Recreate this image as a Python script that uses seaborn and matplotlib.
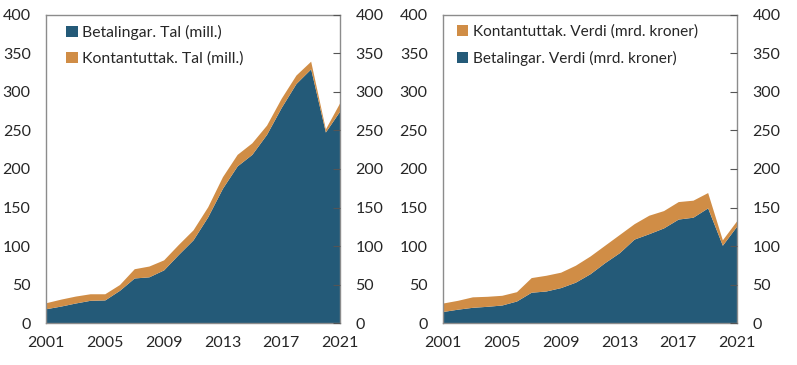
import matplotlib
matplotlib.use("Agg")
import matplotlib.pyplot as plt
from matplotlib.patches import Patch
from matplotlib.ticker import MultipleLocator
import seaborn as sns

years = list(range(2001, 2022))

# Left panel: number of transactions (mill.)
betal_tal = [18.6, 22, 26, 29.5, 30, 42.5, 58.5, 60, 69, 89, 108, 138, 175,
             204, 219, 245, 280, 311, 330, 248, 276]
kontant_tal = [7.8, 9, 9, 8.5, 8, 7.5, 12, 14, 13, 13, 13, 13, 15,
               15, 15, 12, 12, 11, 10, 4, 11]

# Right panel: value (bn NOK)
betal_verdi = [15, 18, 20.4, 21.7, 23.4, 28.6, 40, 41.6, 46, 53, 64, 78.4, 91.4,
               109, 116, 123.5, 135, 137.4, 149.5, 101, 126.5]
kontant_verdi = [11, 11.5, 13.6, 13, 12.6, 12.1, 19, 20.4, 20, 22, 23, 22.6, 23.6,
                 20, 24, 22.5, 22.7, 22.1, 19.9, 7, 7]

BLUE = "#245a78"
ORANGE = "#d08d46"

sns.set_style("white")
plt.rcParams["font.family"] = ["Lato", "DejaVu Sans"]
plt.rcParams["font.size"] = 11.5

fig = plt.figure(figsize=(7.97, 3.65), dpi=100)
ax1 = fig.add_axes([0.0577, 0.115, 0.369, 0.844])
ax2 = fig.add_axes([0.5558, 0.115, 0.369, 0.844])


def draw(ax, blue, orange, legend_order, anchor_x, fs):
    ax.stackplot(years, blue, orange, colors=[BLUE, ORANGE], linewidth=0)
    ax.set_xlim(2001, 2021)
    ax.set_ylim(0, 400)
    ax.yaxis.set_major_locator(MultipleLocator(50))
    ax.set_xticks(years)
    ax.set_xticklabels([str(y) if (y - 2001) % 4 == 0 else "" for y in years])
    for s in ax.spines.values():
        s.set_color("#8c8c8c")
        s.set_linewidth(1)
    ax.tick_params(axis="x", direction="in", length=4, width=0.8, color="#333333",
                   pad=9, labelsize=11.5)
    ax.tick_params(axis="y", direction="in", left=False, right=True,
                   labelleft=True, labelright=True, length=5, width=0.8,
                   color="#555555", pad=11, labelsize=11.5)
    ax.set_axisbelow(False)
    handles = {
        "b": Patch(facecolor=BLUE, edgecolor="none"),
        "k": Patch(facecolor=ORANGE, edgecolor="none"),
    }
    ax.legend([handles[k] for k, _ in legend_order], [t for _, t in legend_order],
              loc="upper left", bbox_to_anchor=(anchor_x, 1.003), frameon=False,
              handlelength=0.75, handleheight=0.75, handletextpad=0.3,
              labelspacing=0.75, fontsize=fs, borderaxespad=0.3)


draw(ax1, betal_tal, kontant_tal,
     [("b", "Betalingar. Tal (mill.)"), ("k", "Kontantuttak. Tal (mill.)")],
     0.03, 11.3)
draw(ax2, betal_verdi, kontant_verdi,
     [("k", "Kontantuttak. Verdi (mrd. kroner)"), ("b", "Betalingar. Verdi (mrd. kroner)")],
     0.01, 11.1)

fig.savefig("out.png", dpi=100)
plt.close(fig)
